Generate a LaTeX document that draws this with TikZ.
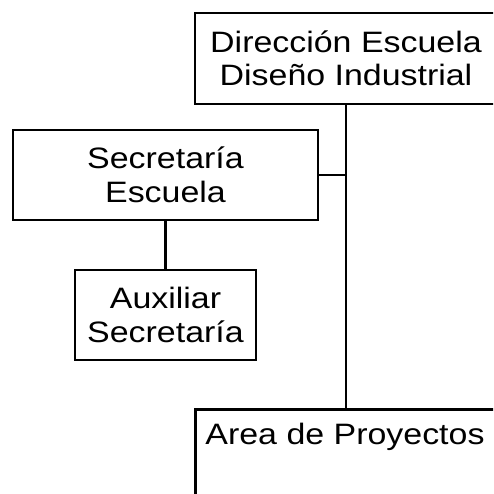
\documentclass[tikz,border=0pt]{standalone}
\usepackage{fontspec}
\setmainfont{Liberation Sans}[FakeStretch=1.15]
\begin{document}
\begin{tikzpicture}[x=1pt,y=1pt,
  txt/.style={font=\fontsize{29.5}{33.5}\selectfont},
  box/.style={draw=black, line width=2.6pt, fill=white, inner sep=0pt, align=center, txt},
  conn/.style={draw=black, line width=2.6pt}]
\useasboundingbox (0,0) rectangle (493,494);
\clip (0,0) rectangle (493,494);
\fill[white] (0,0) rectangle (493,494);
\node[box, minimum width=302, minimum height=91] (dir) at (346,435.5) {Dirección Escuela\\Diseño Industrial};
\node[box, minimum width=305, minimum height=90] (sec) at (165.5,319) {Secretaría\\Escuela};
\node[box, minimum width=181, minimum height=90] (aux) at (165.5,179) {Auxiliar\\Secretaría};
\node[box, minimum width=304, minimum height=120, anchor=north west] (area) at (194,86) {};
\node[txt, inner sep=0pt] (areatxt) at (345,57) {Area de Proyectos};
\draw[conn] (dir.south) -- (dir.south |- area.north);
\draw[conn] (sec.east) -- (sec.east -| dir.south);
\draw[conn] (sec.south) -- (aux.north);
\end{tikzpicture}
\end{document}
